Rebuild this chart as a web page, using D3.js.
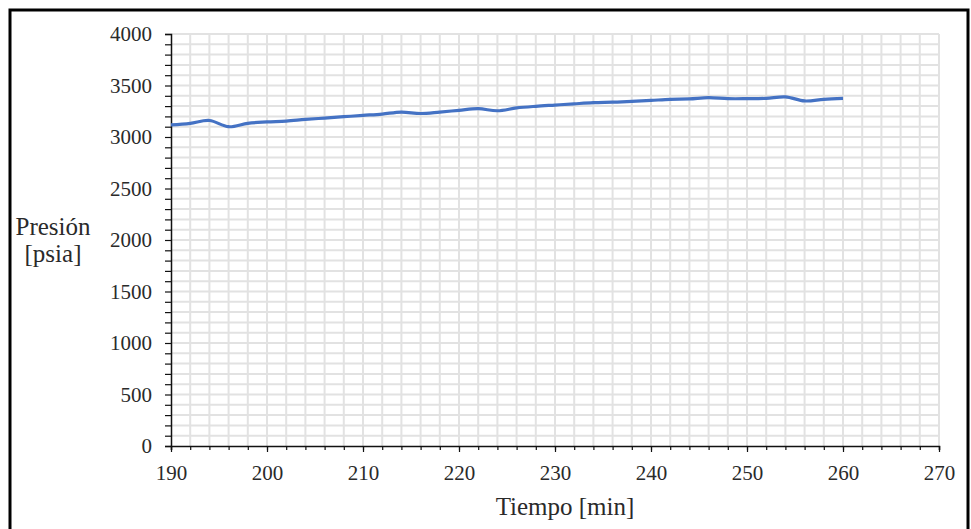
<!DOCTYPE html>
<html>
<head>
<meta charset="utf-8">
<script src="https://cdn.jsdelivr.net/npm/d3@7"></script>
<style>
  html, body { margin: 0; padding: 0; background: #fff; }
  svg { display: block; }
</style>
</head>
<body>
<svg id="chart" width="971" height="529"></svg>
<script>
// ---- data ----
const tiempo = [190,192,194,196,198,200,202,204,206,208,210,212,214,216,218,220,222,224,226,228,230,232,234,236,238,240,242,244,246,248,250,252,254,256,258,260];
const presion = [3117,3133,3160,3100,3133,3146,3155,3171,3184,3197,3210,3223,3242,3228,3242,3259,3275,3255,3282,3298,3310,3322,3333,3338,3345,3355,3366,3370,3382,3372,3372,3375,3390,3350,3366,3375];
const xTicks = [190,200,210,220,230,240,250,260,270];
const yTicks = [0,500,1000,1500,2000,2500,3000,3500,4000];
const xTitle = "Tiempo [min]";
const yTitle = ["Presión", "[psia]"];

const FONT = "'Liberation Serif', 'DejaVu Serif', serif";
const svg = d3.select("#chart");
const pL = 171, pR = 939, pT = 34, pB = 446;

const x = d3.scaleLinear().domain([190, 270]).range([pL, pR]);
const y = d3.scaleLinear().domain([0, 4000]).range([pB, pT]);

// outer frame
svg.append("rect").attr("x", 10).attr("y", 10).attr("width", 958).attr("height", 530)
  .attr("fill", "none").attr("stroke", "#000").attr("stroke-width", 3);

// gridlines
const g = svg.append("g");
g.selectAll("line.vg").data(d3.range(192, 271, 2)).join("line")
  .attr("x1", d => x(d)).attr("x2", d => x(d)).attr("y1", pT).attr("y2", pB)
  .attr("stroke", "#e2e2e2").attr("stroke-width", 2);
g.selectAll("line.hg").data(d3.range(100, 4001, 100)).join("line")
  .attr("y1", d => y(d)).attr("y2", d => y(d)).attr("x1", pL).attr("x2", pR)
  .attr("stroke", "#e2e2e2").attr("stroke-width", 2);

// y axis
const yAx = svg.append("g").attr("transform", `translate(${pL},0)`)
  .call(d3.axisLeft(y).tickValues(d3.range(0, 4001, 100)).tickSize(6).tickFormat(""));
yAx.select(".domain").attr("stroke", "#111").attr("stroke-width", 1.5);
yAx.selectAll(".tick line").attr("stroke", "#111").attr("stroke-width", 1.2);
const yLab = svg.append("g").attr("transform", `translate(${pL},0)`)
  .call(d3.axisLeft(y).tickValues(yTicks).tickSize(0).tickPadding(19).tickFormat(d3.format("d")));
yLab.select(".domain").remove();
yLab.selectAll("text").style("font-family", FONT).style("font-size", "21px").attr("fill", "#2a2a2a");

// x axis
const xAx = svg.append("g").attr("transform", `translate(0,${pB})`)
  .call(d3.axisBottom(x).tickValues(d3.range(190, 271, 2)).tickSize(4).tickFormat(""));
xAx.select(".domain").attr("stroke", "#111").attr("stroke-width", 1.5);
xAx.selectAll(".tick line").attr("stroke", "#111").attr("stroke-width", 1.2);
const xMaj = svg.append("g").attr("transform", `translate(0,${pB})`)
  .call(d3.axisBottom(x).tickValues(xTicks).tickSize(6).tickPadding(13).tickFormat(d3.format("d")));
xMaj.select(".domain").remove();
xMaj.selectAll(".tick line").attr("stroke", "#111").attr("stroke-width", 1.2);
xMaj.selectAll("text").style("font-family", FONT).style("font-size", "21px").attr("fill", "#2a2a2a");

// line
const line = d3.line().x((d, i) => x(tiempo[i])).y(d => y(d)).curve(d3.curveCatmullRom.alpha(0.5));
svg.append("path").datum(presion).attr("d", line)
  .attr("fill", "none").attr("stroke", "#4472C4").attr("stroke-width", 3.2).attr("stroke-linejoin", "round");

// titles
function title(tx, ty, t) {
  svg.append("text").attr("x", tx).attr("y", ty).attr("text-anchor", "middle")
    .style("font-family", FONT).style("font-size", "25px").attr("fill", "#2a2a2a").text(t);
}
title(565, 515, xTitle);
title(53, 235, yTitle[0]);
title(53, 262, yTitle[1]);
</script>
</body>
</html>
